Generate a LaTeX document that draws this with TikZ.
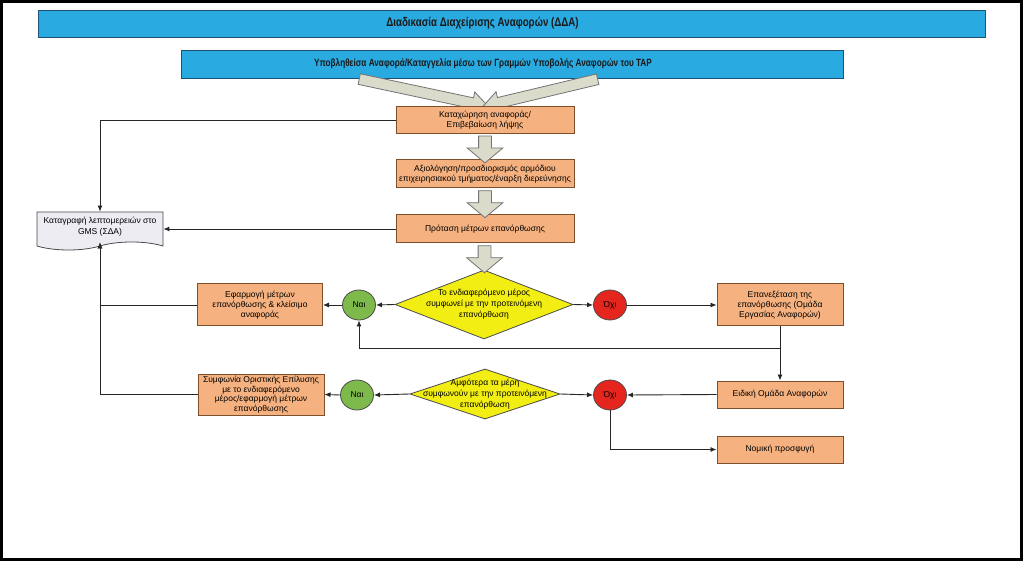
\documentclass[tikz,border=0pt]{standalone}
\usepackage{fontspec}
\setmainfont{Liberation Sans}
\newfontfamily\narrowsans[FakeStretch=0.78]{Liberation Sans}
\usetikzlibrary{shapes.geometric,shapes.arrows,shapes.symbols,arrows.meta,calc}

\definecolor{barblue}{RGB}{41,171,226}
\definecolor{baredge}{RGB}{30,80,120}
\definecolor{boxorange}{RGB}{245,178,128}
\definecolor{boxedge}{RGB}{125,80,45}
\definecolor{askyellow}{RGB}{242,238,20}
\definecolor{yesgreen}{RGB}{125,185,75}
\definecolor{nored}{RGB}{228,38,30}
\definecolor{docgray}{RGB}{236,236,242}
\definecolor{flowgray}{RGB}{218,219,202}

\tikzset{
  bar/.style={draw=baredge, line width=0.8pt, fill=barblue, inner sep=0pt, minimum height=27pt},
  bartext/.style={xshift=-29pt, text=black!90},
  procbox/.style={draw=boxedge, line width=1pt, fill=boxorange, align=center, inner sep=0pt,
    font=\fontsize{8.5}{10}\selectfont},
  decision/.style={diamond, draw=black!70, line width=0.8pt, fill=askyellow, inner sep=0pt},
  asktext/.style={align=center, font=\fontsize{8.5}{11}\selectfont},
  yesnode/.style={ellipse, draw=black!70, line width=0.8pt, fill=yesgreen, minimum width=33pt,
    minimum height=30pt, inner sep=0pt, font=\fontsize{8.5}{10}\selectfont},
  nonode/.style={yesnode, fill=nored},
  docnode/.style={tape, tape bend top=none, tape bend height=8pt, draw=black!70, line width=0.8pt,
    fill=docgray, align=center, inner sep=0pt, font=\fontsize{8.5}{11}\selectfont},
  flowarrow/.style={single arrow, draw=black!55, line width=0.8pt, fill=flowgray, inner sep=6pt,
    single arrow head extend=11.5pt, single arrow tip angle=100, minimum height=27pt},
  mergearrow/.style={flowarrow, inner sep=5pt, single arrow head extend=6pt, single arrow tip angle=70},
  link/.style={draw=black!85, line width=0.9pt, -{Latex[length=6pt,width=5pt]}}
}

\begin{document}
\begin{tikzpicture}[x=1pt,y=-1pt]
\useasboundingbox (0,0) rectangle (1023,561);
\fill [white] (0,0) rectangle (1023,561);
\draw [line width=3pt] (1.5,1.5) rectangle (1021.5,559.5);

% header bars
\node [bar, minimum width=947pt,
  label={[bartext, font=\narrowsans\bfseries\fontsize{12.5}{14}\selectfont]center:Διαδικασία Διαχείρισης Αναφορών (ΔΔΑ)}]
  (title) at (511.5,23.5) {};
\node [bar, minimum width=662pt, minimum height=28pt,
  label={[bartext, font=\narrowsans\bfseries\fontsize{10.5}{12}\selectfont]center:Υποβληθείσα Αναφορά/Καταγγελία μέσω των Γραμμών Υποβολής Αναφορών του ΤΑΡ}]
  (submit) at (512,64) {};

% wide arrows from the submission bar (the first box covers their tips)
\node [mergearrow, minimum height=132pt, rotate=-12] (mergeleft) at (420,92) {};
\node [mergearrow, minimum height=118pt, rotate=193.4] (mergeright) at (544,92) {};

% main column
\node [procbox, minimum width=178pt, minimum height=27pt] (register) at (485,120)
  {Καταχώρηση αναφοράς/\\Επιβεβαίωση λήψης};
\node [procbox, minimum width=178pt, minimum height=28pt] (assess) at (485,174)
  {Αξιολόγηση/προσδιορισμός αρμόδιου\\επιχειρησιακού τμήματος/έναρξη διερεύνησης};
\node [procbox, minimum width=178pt, minimum height=28pt] (propose) at (485,229)
  {Πρόταση μέτρων επανόρθωσης};
\node [decision, minimum width=178pt, minimum height=69pt,
  label={[asktext]center:Το ενδιαφερόμενο μέρος\\συμφωνεί με την προτεινόμενη\\επανόρθωση}] (ask1) at (484,304.5) {};
\node [decision, minimum width=150pt, minimum height=50pt,
  label={[asktext]center:Αμφότερα τα μέρη\\συμφωνούν με την προτεινόμενη\\επανόρθωση}] (ask2) at (485,394) {};

\node [flowarrow, rotate=-90] (flow1) at ($(register.south)!0.5!(assess.north)$) {};
\node [flowarrow, rotate=-90] (flow2) at ($(assess.south)!0.5!(propose.north)$) {};
\node [flowarrow, rotate=-90] (flow3) at ($(propose.south)!0.5!(ask1.north)$) {};

% left side
\node [docnode, minimum width=126pt, minimum height=38pt] (record) at (100,227)
  {Καταγραφή λεπτομερειών στο\\GMS (ΣΔΑ)};
\node [yesnode] (yes1) at (359,305) {Ναι};
\node [yesnode] (yes2) at (357,395) {Ναι};
\node [procbox, minimum width=125pt, minimum height=42pt] (apply) at (260,305)
  {Εφαρμογή μέτρων\\επανόρθωσης \& κλείσιμο\\αναφοράς};
\node [procbox, minimum width=126pt, minimum height=41pt, font=\fontsize{8.5}{9.5}\selectfont] (settle) at (261,394.5)
  {Συμφωνία Οριστικής Επίλυσης\\με το ενδιαφερόμενο\\μέρος/εφαρμογή μέτρων\\επανόρθωσης};

% right side
\node [nonode] (no1) at (610,305) {Όχι};
\node [nonode] (no2) at (610,395) {Όχι};
\node [procbox, minimum width=126pt, minimum height=42pt] (review) at (780,305)
  {Επανεξέταση της\\επανόρθωσης (Ομάδα\\Εργασίας Αναφορών)};
\node [procbox, minimum width=126pt, minimum height=27pt] (special) at (780,394.5)
  {Ειδική Ομάδα Αναφορών};
\node [procbox, minimum width=126pt, minimum height=27pt] (legal) at (780,449.5)
  {Νομική προσφυγή};
\coordinate (back) at ($(review.south)+(0,22)$);

% connectors
\draw [link] (register.west) -| (record.north);
\draw [link] (propose.west) -- (propose.west -| record.east);
\draw [link] (apply.west) -| (record.south);
\draw [link] (settle.west) -| (record.south);
\draw [link] (ask1.west) -- (yes1.east);
\draw [link] (yes1.west) -- (apply.east);
\draw [link] (ask1.east) -- (no1.west);
\draw [link] (no1.east) -- (review.west);
\draw [link] (review.south) -- (special.north);
\draw [link] (back) -| (yes1.south);
\draw [link] (special.west) -- (no2.east);
\draw [link] (ask2.east) -- (no2.west);
\draw [link] (ask2.west) -- (yes2.east);
\draw [link] (yes2.west) -- (settle.east);
\draw [link] (no2.south) |- (legal.west);
\end{tikzpicture}
\end{document}
